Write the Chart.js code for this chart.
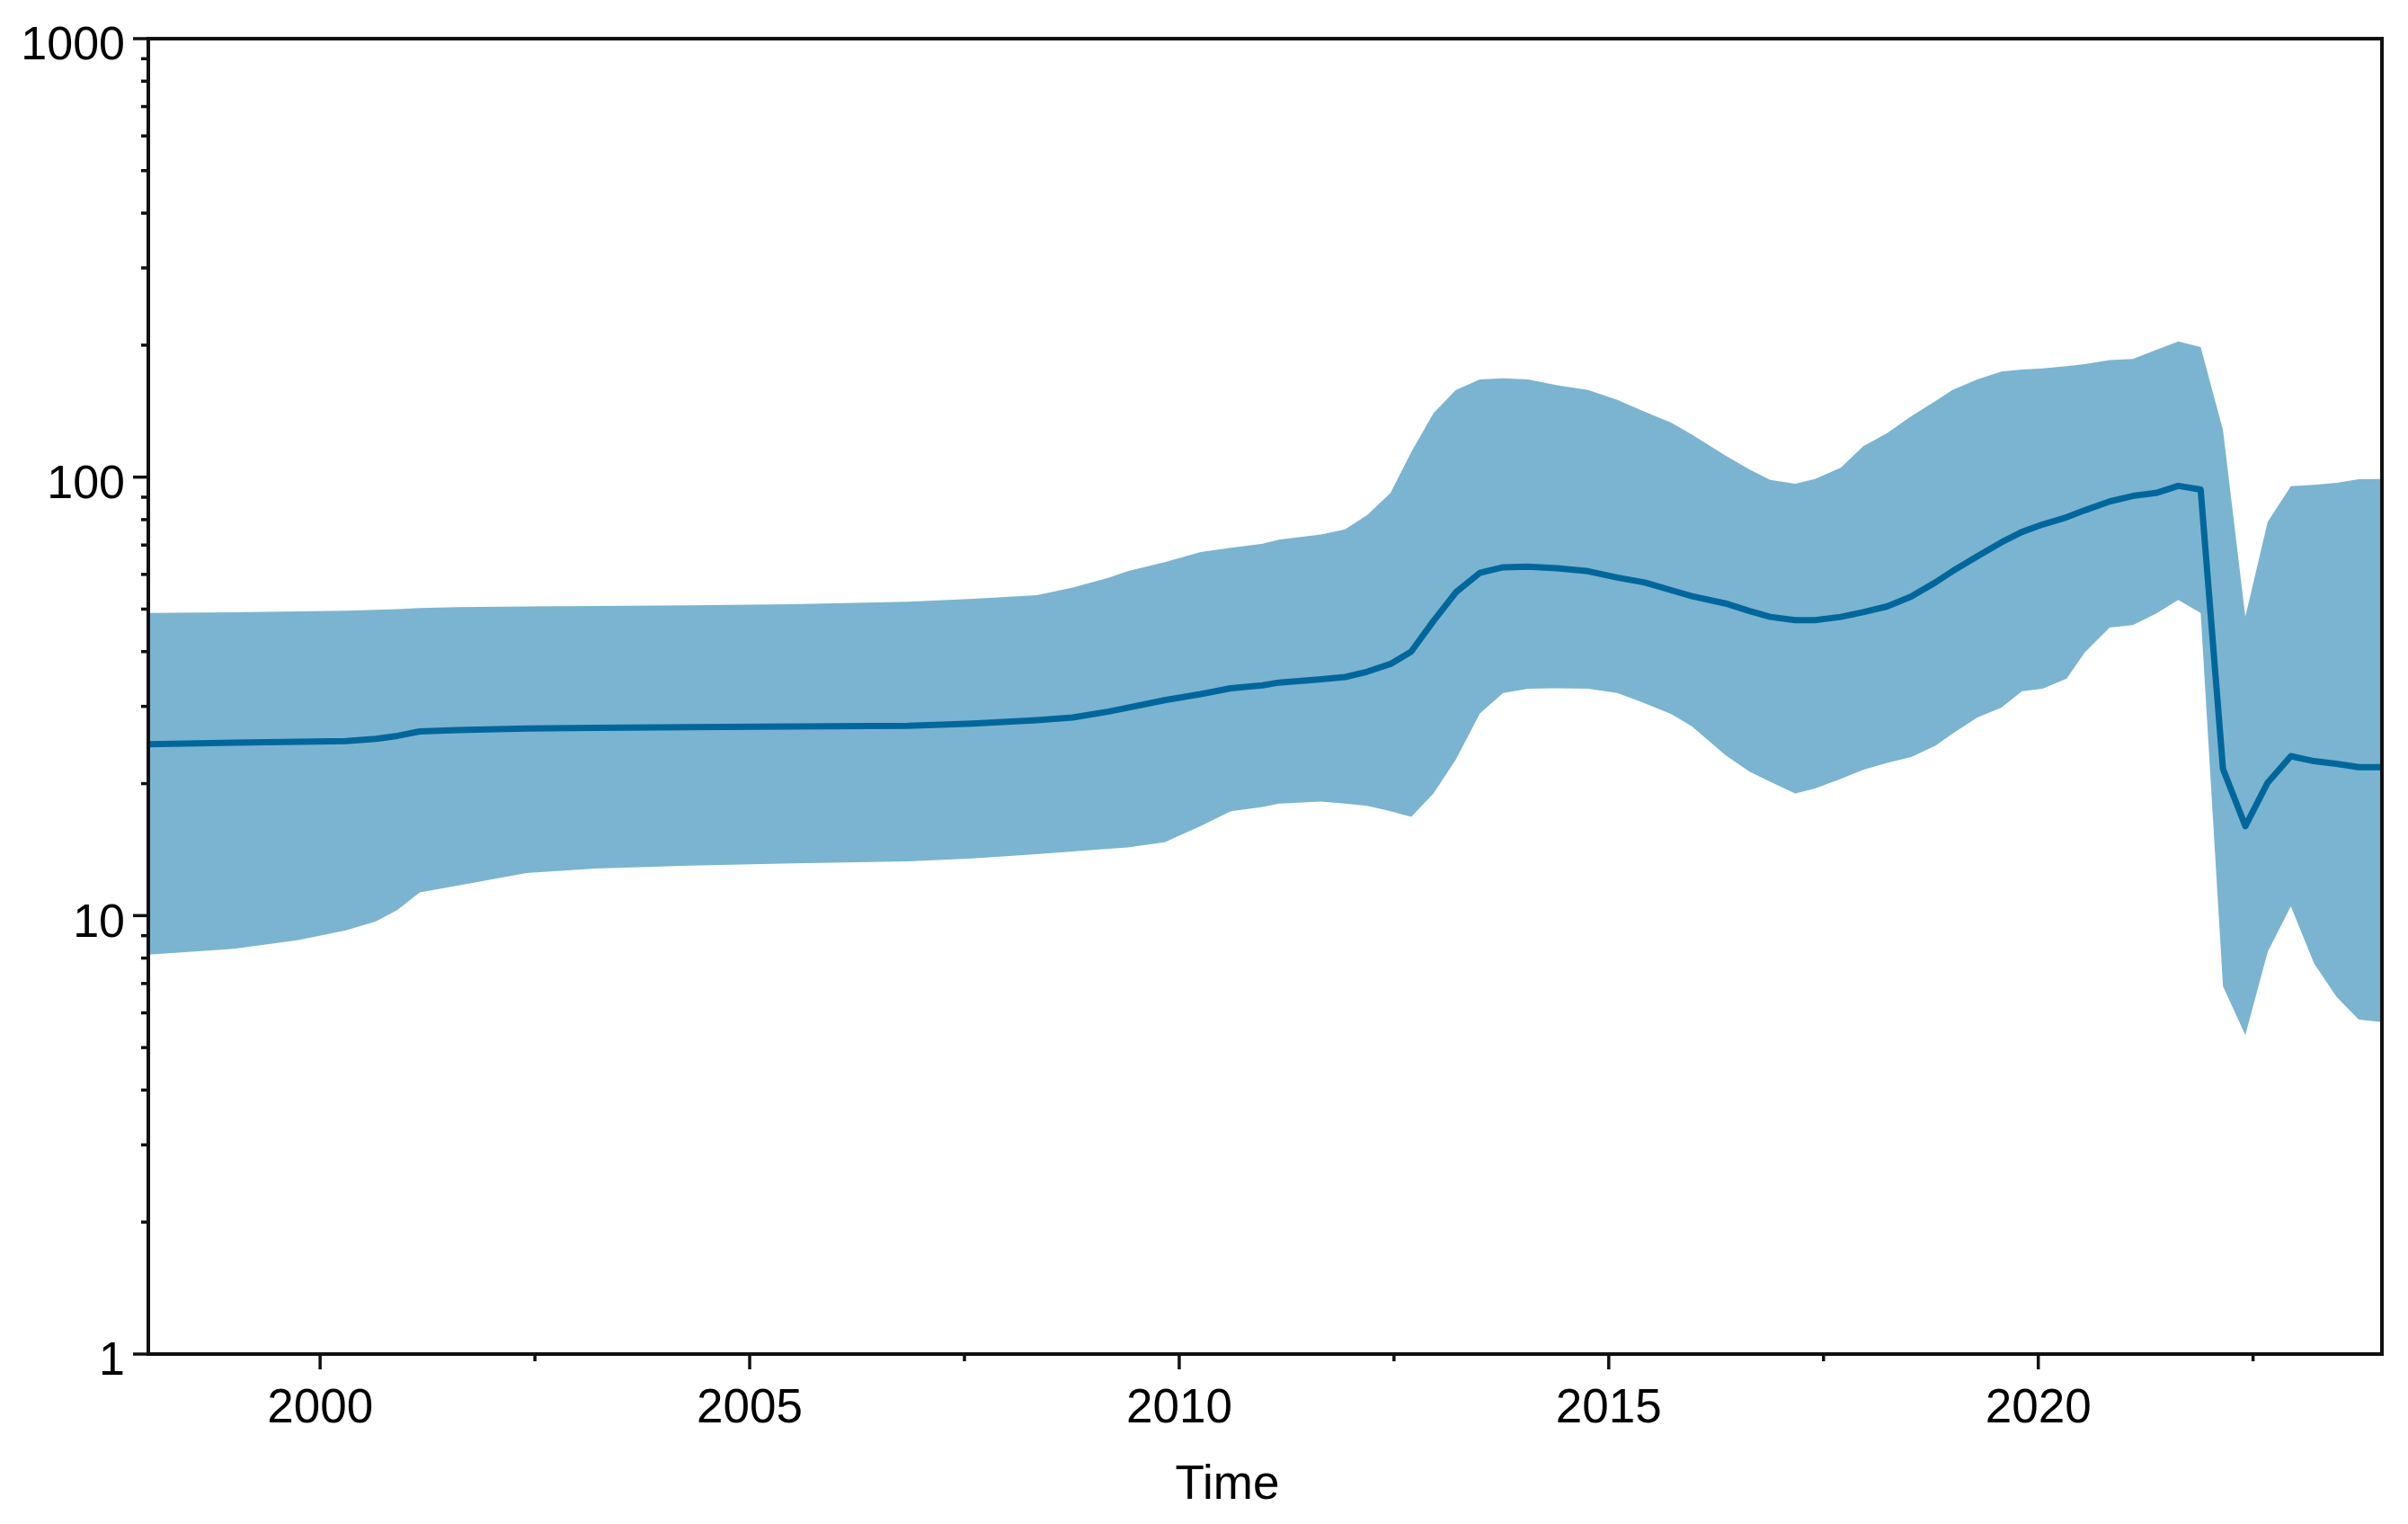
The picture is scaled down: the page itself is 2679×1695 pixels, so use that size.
<!DOCTYPE html>
<html>
<head>
<meta charset="utf-8">
<script src="https://cdn.jsdelivr.net/npm/chart.js@4/dist/chart.umd.min.js"></script>
<style>
  html, body { margin: 0; padding: 0; background: #ffffff; }
  #wrap { width: 2679px; height: 1695px; }
</style>
</head>
<body>
<div id="wrap"><canvas id="c" width="2679" height="1695"></canvas></div>
<script>
// ---- data ----
const times = [1998.0, 1999.0, 1999.75, 2000.3, 2000.65, 2000.9, 2001.16, 2001.6, 2002.4, 2003.2,
  2004.3, 2005.5, 2006.84, 2007.6, 2008.34, 2008.76, 2009.18, 2009.4, 2009.83, 2010.25,
  2010.6, 2010.97, 2011.16, 2011.65, 2011.93, 2012.19, 2012.46, 2012.70, 2012.96, 2013.22,
  2013.50, 2013.77, 2014.06, 2014.40, 2014.76, 2015.10, 2015.42, 2015.73, 2015.97, 2016.36,
  2016.64, 2016.88, 2017.17, 2017.40, 2017.70, 2017.96, 2018.24, 2018.52, 2018.80, 2019.00,
  2019.29, 2019.57, 2019.81, 2020.05, 2020.33, 2020.54, 2020.83, 2021.10, 2021.37, 2021.63,
  2021.89, 2022.15, 2022.41, 2022.67, 2022.94, 2023.21, 2023.47, 2023.73, 2024.0];

const upperBound = [49, 49.2, 49.4, 49.6, 49.8, 50, 50.3, 50.5, 50.7, 50.8,
  51, 51.3, 52, 52.8, 53.8, 56, 59, 61, 64, 67.5,
  69, 70.5, 72, 74, 76, 82, 92, 114, 140, 158,
  167, 168, 167, 162, 158, 150, 141, 133, 125, 112,
  104, 98.5, 96.6, 99, 105, 117.5, 126, 137.6, 149, 158,
  167, 174, 176, 177, 179, 181, 185, 186, 195, 204,
  198, 128, 48, 79, 95.3, 96, 97, 98.9, 99];

const median = [24.6, 24.8, 24.9, 25.0, 25.3, 25.7, 26.3, 26.5, 26.7, 26.8,
  26.9, 27.0, 27.1, 27.4, 27.9, 28.3, 29.2, 29.8, 31.0, 32.0,
  33.0, 33.5, 34, 34.6, 35, 36, 37.5, 40, 47, 54.6,
  60.5, 62.3, 62.5, 62, 61, 59, 57.5, 55.2, 53.5, 51.5,
  49.5, 48, 47.2, 47.2, 48, 49.2, 50.7, 53.4, 57.5, 61,
  66, 71, 75, 78, 81, 84, 88, 90.6, 92, 95.5,
  93.7, 21.6, 16.0, 20.1, 23.1, 22.5, 22.2, 21.8, 21.8];

const lowerBound = [8.15, 8.4, 8.8, 9.25, 9.7, 10.3, 11.3, 11.7, 12.5, 12.8,
  13.0, 13.15, 13.3, 13.5, 13.8, 14.0, 14.2, 14.3, 14.7, 16.0,
  17.3, 17.7, 18.0, 18.2, 18.0, 17.8, 17.3, 16.8, 19.0, 22.7,
  28.9, 32.2, 32.9, 33, 32.9, 32.2, 30.5, 28.8, 27.0, 23.2,
  21.3, 20.2, 19.0, 19.5, 20.5, 21.5, 22.3, 23.0, 24.4, 26,
  28.3, 29.8, 32.5, 32.9, 34.7, 39.8, 45.4, 46, 48.8, 52.5,
  49, 6.9, 5.34, 8.26, 10.5, 7.78, 6.53, 5.79, 5.72];

const xTickLabels = [2000, 2005, 2010, 2015, 2020];
const xMinorTicks = [2002.5, 2007.5, 2012.5, 2017.5, 2022.5];
const yTickLabels = [1, 10, 100, 1000];
const yMinorTicks = [2, 3, 4, 5, 6, 7, 8, 9, 20, 30, 40, 50, 60, 70, 80, 90, 200, 300, 400, 500, 600, 700, 800, 900];
const xTitle = 'Time';

// ---- chart ----
const toXY = (arr) => times.map((t, i) => ({ x: t, y: arr[i] }));

const BAND = '#7bb4d0';
const LINE = '#00679c';
const AXIS = '#111111';
const FONT = "'Liberation Sans', Arial, sans-serif";

const tickMarks = {
  id: 'tickMarks',
  afterDraw(chart) {
    const ctx = chart.ctx;
    const a = chart.chartArea;
    const xs = chart.scales.x, ys = chart.scales.y;
    ctx.save();
    ctx.strokeStyle = AXIS;
    ctx.lineWidth = 3.5;
    ctx.lineCap = 'butt';
    ys.ticks.forEach(t => {
      const y = ys.getPixelForValue(t.value);
      const len = yTickLabels.includes(t.value) ? 17 : 8;
      ctx.beginPath();
      ctx.moveTo(a.left - len, y);
      ctx.lineTo(a.left, y);
      ctx.stroke();
    });
    xs.ticks.forEach(t => {
      const x = xs.getPixelForValue(t.value);
      const len = xTickLabels.includes(t.value) ? 17 : 8;
      ctx.beginPath();
      ctx.moveTo(x, a.bottom);
      ctx.lineTo(x, a.bottom + len);
      ctx.stroke();
    });
    ctx.lineWidth = 4;
    ctx.strokeRect(a.left, a.top, a.right - a.left, a.bottom - a.top);
    // axis title (placed slightly left of centre, as in the reference)
    ctx.fillStyle = '#000';
    ctx.font = "53px 'Liberation Sans Narrow', 'Liberation Sans', Arial, sans-serif";
    ctx.textAlign = 'center';
    ctx.textBaseline = 'middle';
    ctx.fillText(xTitle, (a.left + a.right) / 2 - 42, 1652);
    ctx.restore();
  }
};

new Chart(document.getElementById('c'), {
  type: 'line',
  data: {
    datasets: [
      {
        label: 'median',
        data: toXY(median),
        borderColor: LINE,
        borderWidth: 7,
        pointRadius: 0,
        fill: false,
        tension: 0,
        borderJoinStyle: 'round',
        borderCapStyle: 'round'
      },
      {
        label: 'upper',
        data: toXY(upperBound),
        borderWidth: 0,
        borderColor: 'rgba(0,0,0,0)',
        backgroundColor: BAND,
        pointRadius: 0,
        fill: '+1',
        tension: 0
      },
      {
        label: 'lower',
        data: toXY(lowerBound),
        borderWidth: 0,
        borderColor: 'rgba(0,0,0,0)',
        backgroundColor: BAND,
        pointRadius: 0,
        fill: false,
        tension: 0
      }
    ]
  },
  options: {
    responsive: false,
    devicePixelRatio: 1,
    animation: false,
    layout: { padding: { top: 43, right: 29, left: 0, bottom: 0 } },
    plugins: {
      legend: { display: false },
      tooltip: { enabled: false },
      title: { display: false }
    },
    scales: {
      x: {
        type: 'linear',
        min: 1998,
        max: 2024,
        grid: { display: false, drawTicks: false },
        border: { display: false },
        afterBuildTicks: (s) => {
          s.ticks = [...xTickLabels, ...xMinorTicks].sort((p, q) => p - q).map(v => ({ value: v }));
        },
        afterFit: (s) => { s.height = 189; s.paddingLeft = 0; s.paddingRight = 0; },
        ticks: {
          autoSkip: false,
          maxRotation: 0,
          padding: 30,
          color: '#000',
          font: { family: FONT, size: 53 },
          callback: (v) => xTickLabels.includes(v) ? String(v) : ''
        },
        title: { display: false }
      },
      y: {
        type: 'logarithmic',
        min: 1,
        max: 1000,
        grid: { display: false, drawTicks: false },
        border: { display: false },
        afterBuildTicks: (s) => {
          s.ticks = [...yTickLabels, ...yMinorTicks].sort((p, q) => p - q).map(v => ({ value: v }));
        },
        afterFit: (s) => { s.width = 165; s.paddingTop = 0; s.paddingBottom = 0; },
        ticks: {
          autoSkip: false,
          padding: 26,
          labelOffset: 9,
          color: '#000',
          font: { family: FONT, size: 52 },
          callback: (v) => yTickLabels.includes(v) ? String(v) : ''
        }
      }
    }
  },
  plugins: [tickMarks]
});
</script>
</body>
</html>
